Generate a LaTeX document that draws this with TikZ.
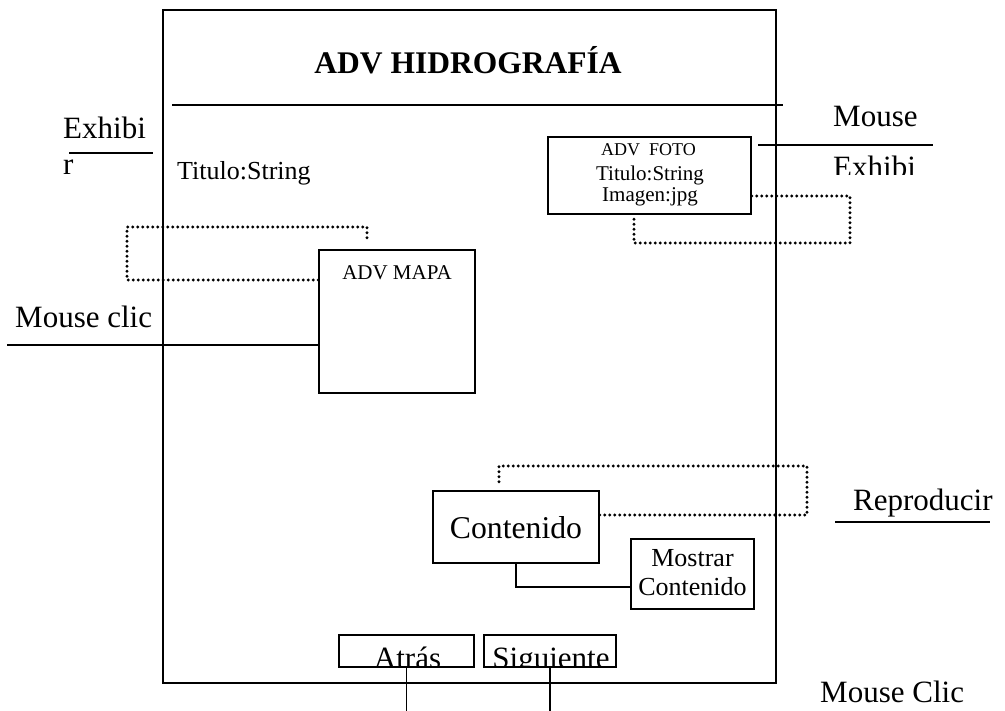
\documentclass[tikz,border=0pt]{standalone}
\usepackage{fontspec}
\setmainfont{Liberation Serif}
\begin{document}
\begin{tikzpicture}[x=1pt,y=-1pt,
  box/.style={draw, line width=1.6pt, inner sep=0pt},
  wire/.style={line width=1.6pt},
  dots/.style={line width=3.2pt, line cap=round, dash pattern=on 0pt off 5pt},
  txt/.style={inner sep=0pt, anchor=base},
  txtw/.style={inner sep=0pt, anchor=base west},
  big/.style={font=\fontsize{31}{37}\selectfont},
  mid/.style={font=\fontsize{26}{31}\selectfont},
  sml/.style={font=\fontsize{21}{25}\selectfont},
  tny/.style={font=\fontsize{18}{22}\selectfont},
]
\useasboundingbox (0,0) rectangle (1005,711);

% outer window
\node[box, minimum width=613pt, minimum height=673pt] (frame) at (469.5,346.5) {};
\node[txt, font=\fontsize{31.5}{38}\selectfont\bfseries] (title) at (468,74) {ADV HIDROGRAFÍA};
\coordinate (tl1) at (172,105);
\coordinate (tl2) at (783,105);
\draw[wire] (tl1) -- (tl2);
\node[txtw, mid] (titulo) at (177,180) {Titulo:String};

% event on the left
\node[txtw, big] (exh1) at (63,139) {Exhibi};
\node[txtw, big] (exh2) at (63,175) {r};
\coordinate (ex1) at (69,153);
\coordinate (ex2) at (153,153);
\draw[wire] (ex1) -- (ex2);

% photo component
\node[box, minimum width=203pt, minimum height=77pt] (foto) at (649.5,175.5) {};
\node[txt, tny] (foto1) at (648.5,156) {ADV\ \ FOTO};
\node[txt, sml] (foto2) at (650,181) {Titulo:String};
\node[txt, sml] (foto3) at (650,202) {Imagen:jpg};
\coordinate (fa) at (850,196);
\coordinate (fb) at (850,243);
\coordinate (fc) at (634,243);
\coordinate (fd) at (634,218);
\draw[dots] (foto.east |- fa) -- (fa) -- (fb) -- (fc) -- (fd);

% event on the right of the photo
\node[txtw, big] (mouse) at (833,127) {Mouse};
\coordinate (mo1) at (758,145);
\coordinate (mo2) at (933,145);
\draw[wire] (mo1) -- (mo2);
\begin{scope}
  \clip (820,150) rectangle (945,175);
  \node[txtw, big] (exh3) at (833,178) {Exhibi};
\end{scope}

% map component
\node[box, minimum width=156pt, minimum height=143pt] (mapa) at (397,321.5) {};
\node[txt, sml] (mapat) at (397,280) {ADV MAPA};
\coordinate (ma) at (127,280);
\coordinate (mb) at (127,227);
\coordinate (mc) at (367,227);
\coordinate (md) at (367,239);
\draw[dots] (mapa.west |- ma) -- (ma) -- (mb) -- (mc) -- (md);
\node[txtw, big] (clic) at (15,328) {Mouse clic};
\coordinate (cl) at (7,345);
\draw[wire] (cl) -- (mapa.west |- cl);

% content component
\node[box, minimum width=166pt, minimum height=72pt] (cont) at (516,527) {};
\node[txt, font=\fontsize{31.7}{38}\selectfont] (contt) at (516,538) {Contenido};
\node[box, minimum width=123pt, minimum height=70pt] (most) at (692.5,574) {};
\node[txt, mid] (most1) at (692.5,566) {Mostrar};
\node[txt, mid] (most2) at (692.5,595) {Contenido};
\coordinate (mcy) at (0,587);
\draw[wire] (cont.south) |- (most.west |- mcy);
\coordinate (ca) at (807,515);
\coordinate (cb) at (807,466);
\coordinate (cc) at (499,466);
\coordinate (cd) at (499,483);
\draw[dots] (cont.east |- ca) -- (ca) -- (cb) -- (cc) -- (cd);
\node[txtw, big] (repr) at (853,511) {Reproducir};
\coordinate (re1) at (835,522);
\coordinate (re2) at (990,522);
\draw[wire] (re1) -- (re2);

% navigation buttons, their captions cut off by the button edge
\node[box, line width=1.3pt, minimum width=135pt, minimum height=32pt] (atras) at (406.5,651) {};
\node[box, line width=1.3pt, minimum width=132pt, minimum height=32pt] (sig) at (550,651) {};
\begin{scope}
  \clip (atras.north west) rectangle (atras.south east);
  \node[txt, big] (atrast) at (407.5,668) {Atrás};
\end{scope}
\begin{scope}
  \clip (sig.north west) rectangle (sig.south east);
  \node[txt, big] (sigt) at (551,668) {Siguiente};
\end{scope}
\coordinate (bot) at (0,712);
\draw[wire] (atras.south) -- (atras.south |- bot);
\draw[wire] (sig.south) -- (sig.south |- bot);
\node[txtw, big] (mclic) at (820,702) {Mouse Clic};
\end{tikzpicture}
\end{document}
